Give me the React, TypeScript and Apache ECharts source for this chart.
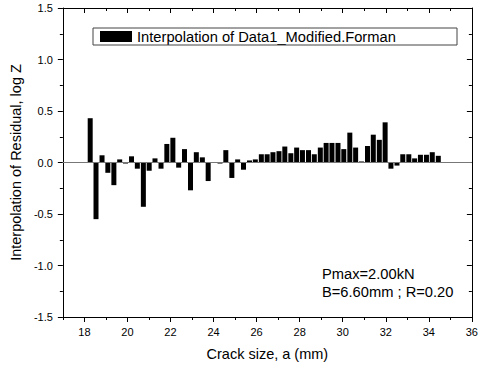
import React, { useEffect, useRef } from "react";
import * as echarts from "echarts";

const crackSize = [
  18.27, 18.54, 18.82, 19.09, 19.37, 19.64, 19.91, 20.19, 20.46, 20.74,
  21.01, 21.28, 21.56, 21.83, 22.11, 22.38, 22.65, 22.93, 23.2, 23.48,
  23.75, 24.02, 24.3, 24.57, 24.85, 25.12, 25.39, 25.67, 25.94, 26.22,
  26.49, 26.76, 27.04, 27.31, 27.59, 27.86, 28.13, 28.41, 28.68, 28.96,
  29.23, 29.5, 29.78, 30.05, 30.33, 30.6, 30.87, 31.15, 31.42, 31.7,
  31.97, 32.24, 32.52, 32.79, 33.07, 33.34, 33.61, 33.89, 34.16, 34.44,
];

const residual = [
  0.43, -0.55, 0.07, -0.1, -0.22, 0.03, -0.01, 0.06, -0.06, -0.43,
  -0.08, 0.04, -0.06, 0.18, 0.24, -0.05, 0.13, -0.27, 0.1, 0.05,
  -0.18, 0.0, -0.01, 0.12, -0.15, 0.03, -0.07, 0.02, 0.03, 0.08,
  0.08, 0.1, 0.11, 0.155, 0.09, 0.145, 0.12, 0.12, 0.08, 0.145,
  0.19, 0.19, 0.19, 0.13, 0.29, 0.145, 0.01, 0.16, 0.27, 0.22,
  0.39, -0.06, -0.03, 0.08, 0.08, 0.04, 0.075, 0.075, 0.1, 0.065,
];

const xMajorTicks = [18, 20, 22, 24, 26, 28, 30, 32, 34, 36];
const xMinorTicks = [17, 19, 21, 23, 25, 27, 29, 31, 33, 35];
const yTickLabels = [-1.5, -1.0, -0.5, 0.0, 0.5, 1.0, 1.5];

const seriesName = "Interpolation of Data1_Modified.Forman";
const noteLines = ["Pmax=2.00kN", "B=6.60mm ; R=0.20"];

const FONT = "Liberation Sans, Arial, sans-serif";

export default function App() {
  const ref = useRef<HTMLDivElement>(null);

  useEffect(() => {
    if (!ref.current) return;
    const chart = echarts.init(ref.current, undefined, { renderer: "svg" });
    const axisLine = { show: true, onZero: false, lineStyle: { color: "#000", width: 1 } };
    const noLine = { show: false, onZero: false };
    const option: any = {
      animation: false,
      backgroundColor: "#fff",
      textStyle: { fontFamily: FONT },
      grid: { left: 62, right: 6, top: 8, bottom: 56 },
      legend: {
        data: [seriesName],
        left: 100,
        top: 29,
        padding: 0,
        itemWidth: 32,
        itemHeight: 11,
        icon: "rect",
        textStyle: { fontFamily: FONT, fontSize: 14.7, color: "#000" },
      },
      xAxis: [
        {
          type: "value",
          min: 17,
          max: 36,
          position: "bottom",
          name: "Crack size, a (mm)",
          nameLocation: "middle",
          nameGap: 29,
          nameTextStyle: { fontFamily: FONT, fontSize: 14.5, color: "#000" },
          axisLine,
          axisTick: {
            show: true,
            length: 5,
            lineStyle: { color: "#000" },
            customValues: xMajorTicks,
          },
          axisLabel: {
            show: true,
            customValues: xMajorTicks,
            margin: 9,
            fontFamily: FONT,
            fontSize: 11,
            color: "#000",
            formatter: (v: number) => String(v),
          },
          splitLine: { show: false },
        },
        {
          type: "value",
          min: 17,
          max: 36,
          position: "bottom",
          axisLine: noLine,
          axisTick: {
            show: true,
            length: 3,
            lineStyle: { color: "#000" },
            customValues: xMinorTicks,
          },
          axisLabel: { show: false },
          splitLine: { show: false },
        },
        {
          type: "value",
          min: 17,
          max: 36,
          position: "top",
          axisLine,
          axisTick: {
            show: true,
            inside: true,
            length: 5,
            lineStyle: { color: "#000" },
            customValues: xMajorTicks,
          },
          axisLabel: { show: false },
          splitLine: { show: false },
        },
        {
          type: "value",
          min: 17,
          max: 36,
          position: "top",
          axisLine: noLine,
          axisTick: {
            show: true,
            inside: true,
            length: 3,
            lineStyle: { color: "#000" },
            customValues: xMinorTicks,
          },
          axisLabel: { show: false },
          splitLine: { show: false },
        },
      ],
      yAxis: [
        {
          type: "value",
          min: -1.5,
          max: 1.5,
          interval: 0.5,
          position: "left",
          name: "Interpolation of Residual, log Z",
          nameLocation: "middle",
          nameGap: 35,
          nameTextStyle: { fontFamily: FONT, fontSize: 14.5, color: "#000" },
          axisLine,
          axisTick: { show: true, length: 5, lineStyle: { color: "#000" } },
          minorTick: { show: true, splitNumber: 2, length: 3, lineStyle: { color: "#000" } },
          axisLabel: {
            margin: 10,
            fontFamily: FONT,
            fontSize: 11,
            color: "#000",
            formatter: (v: number) => {
              const t = yTickLabels.find((x) => Math.abs(x - v) < 1e-9);
              return (t !== undefined ? t : v).toFixed(1);
            },
          },
          splitLine: { show: false },
        },
        {
          type: "value",
          min: -1.5,
          max: 1.5,
          interval: 0.5,
          position: "right",
          axisLine,
          axisTick: { show: true, inside: true, length: 5, lineStyle: { color: "#000" } },
          minorTick: { show: true, splitNumber: 2, length: 3, lineStyle: { color: "#000" } },
          axisLabel: { show: false },
          splitLine: { show: false },
        },
      ],
      graphic: [
        {
          type: "rect",
          shape: { x: 93, y: 28, width: 364, height: 17 },
          style: { fill: "none", stroke: "#444", lineWidth: 1 },
          z: 10,
        },
        {
          type: "text",
          left: 322,
          top: 266.5,
          style: {
            text: noteLines[0],
            fontFamily: FONT,
            fontSize: 14.7,
            fill: "#000",
          },
        },
        {
          type: "text",
          left: 322,
          top: 284,
          style: {
            text: noteLines[1],
            fontFamily: FONT,
            fontSize: 14.7,
            fill: "#000",
          },
        },
      ],
      series: [
        {
          name: seriesName,
          type: "bar",
          xAxisIndex: 0,
          yAxisIndex: 0,
          barWidth: 5,
          itemStyle: { color: "#000" },
          data: crackSize.map((x, i) => [x, residual[i]]),
          markLine: {
            silent: true,
            symbol: "none",
            label: { show: false },
            lineStyle: { color: "#777", width: 1, type: "solid" },
            data: [{ yAxis: 0 }],
          },
        },
      ],
    };
    chart.setOption(option);
    return () => chart.dispose();
  }, []);

  return (
    <div
      ref={ref}
      style={{ position: "absolute", left: 0, top: 0, width: 481, height: 373 }}
    />
  );
}
